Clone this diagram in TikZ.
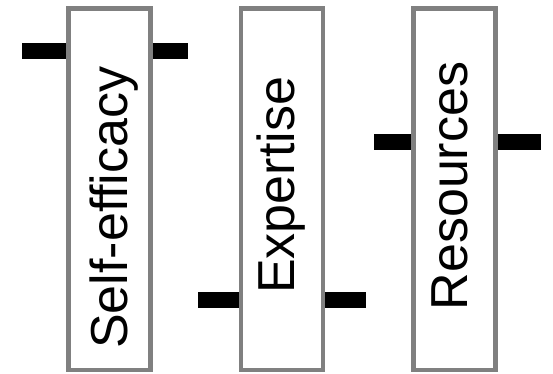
\documentclass[tikz,border=0pt]{standalone}
\usepackage{fontspec}
\setmainfont{Liberation Sans}
\usetikzlibrary{backgrounds}
\begin{document}
\begin{tikzpicture}[x=1pt,y=-1pt,
  box/.style={draw=black!50, line width=4.6pt, fill=white, inner sep=0pt, minimum width=82pt, minimum height=361.5pt},
  lbl/.style={rotate=90, anchor=base west, inner sep=0pt, font=\fontsize{52}{60}\selectfont},
  bar/.style={line width=16pt, black}]
\useasboundingbox (0,0) rectangle (553,373);
\node[box] (b1) at (109.25,189.25) {};
\node[box] (b2) at (281.85,189.25) {};
\node[box] (b3) at (454.65,189.25) {};
\coordinate (b1l) at (22,51.3);   \coordinate (b1r) at (187.7,51.3);
\coordinate (b2l) at (198.3,300); \coordinate (b2r) at (365.7,300);
\coordinate (b3l) at (374,141.7); \coordinate (b3r) at (541,141.7);
\begin{pgfonlayer}{background}
\draw[bar] (b1l) -- (b1.west |- b1l);
\draw[bar] (b1.east |- b1r) -- (b1r);
\draw[bar] (b2l) -- (b2.west |- b2l);
\draw[bar] (b2.east |- b2r) -- (b2r);
\draw[bar] (b3l) -- (b3.west |- b3l);
\draw[bar] (b3.east |- b3r) -- (b3r);
\end{pgfonlayer}
\node[lbl] (t1) at (127,349) {Self-efficacy};
\node[lbl] (t2) at (294.7,294) {Expertise};
\node[lbl] (t3) at (467.7,310.5) {Resources};
\end{tikzpicture}
\end{document}
